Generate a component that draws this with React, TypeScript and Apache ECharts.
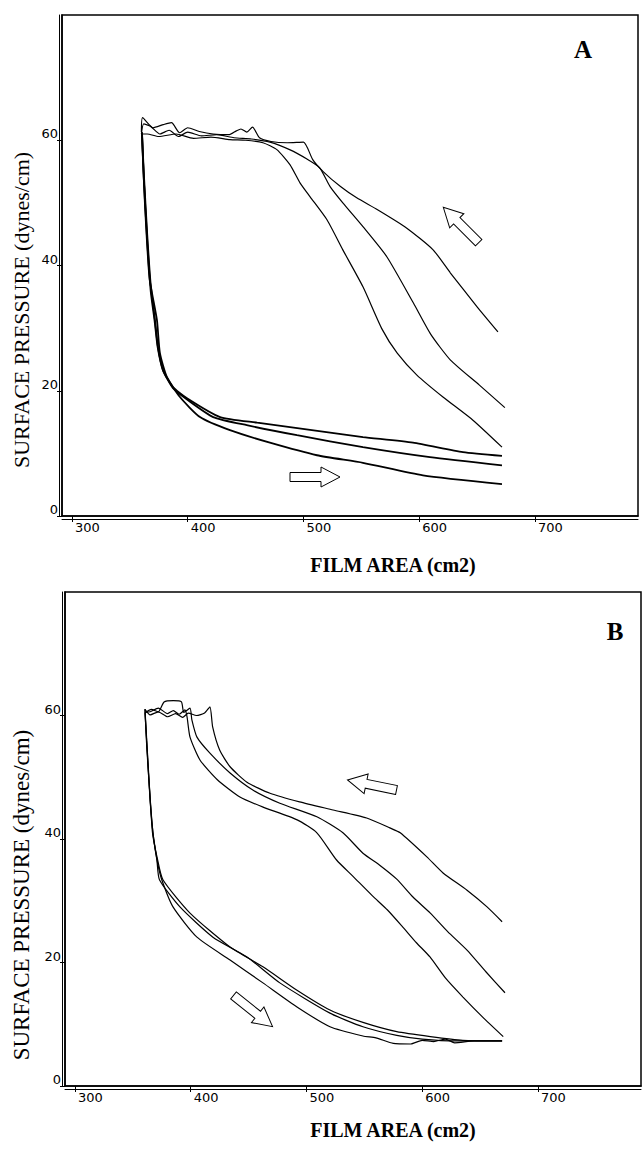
import React, { useEffect, useRef } from "react";
import * as echarts from "echarts";

// ---------- data (film area cm2, surface pressure dynes/cm) ----------
const X_TICKS = [300, 400, 500, 600, 700];
const Y_TICKS = [0, 20, 40, 60];

// Panel A - compression (upper) curves
const compA1 = [[668,29.4],[650,33.4],[627,38.8],[612,42.5],[589,46.0],[564,48.9],[546,50.8],[532,52.6],[517,55.0],[508,56.9],[500,59.7],[486,59.6],[472,59.8],[462,60.4],[456,62.1],[451,61.3],[446,61.8],[442,61.5],[436,60.9],[422,61.0],[410,61.4],[400,62.0],[393,61.2],[386,62.8],[379,62.5],[370,62.0],[361,63.6],[360,61.3]];
const compA2 = [[674,17.3],[652,20.9],[627,24.9],[610,29.0],[595,34.0],[572,41.4],[551.4,46.2],[534,50.0],[523,52.6],[514,55.6],[503,57.0],[488,58.5],[471,59.7],[455,60.2],[440,60.4],[425,60.9],[412,60.7],[400,61.3],[392,60.6],[384,61.6],[376,61.0],[368,62.2],[362,62.6],[360,61.0]];
const compA3 = [[671.5,11.0],[646.4,15.3],[620.5,19.0],[598,22.5],[581,26.0],[568,29.8],[551.4,36.6],[534,42.5],[520.3,47.3],[505.6,51.0],[497,53.2],[488.3,56.1],[477,58.5],[465,59.6],[450,60.0],[436.5,60.1],[420,60.5],[405,60.3],[390,61.0],[375,60.6],[365,61.0],[360.5,61.0]];
// Panel A - expansion (lower) curves
const expA1 = [[360.5,61.3],[362,55],[365,45],[368,37],[371.7,31.3],[374.3,27.0],[378.6,23.3],[387.3,20.6],[399.4,18.8],[428,15.8],[460,14.9],[523,13.3],[551.4,12.6],[594.6,11.7],[637.8,10.2],[671.5,9.6]];
const expA2 = [[360.5,61.0],[362,54],[365,44],[368,36],[371.5,31],[374,27],[378.6,23.3],[387.3,20.4],[399.4,18.6],[422,15.8],[451,14.5],[494.4,12.9],[551.4,11.0],[609.3,9.4],[671.5,8.1]];
const expA3 = [[360.5,61.0],[363,50],[367,38],[373.4,31.3],[376,26.0],[382,22.2],[393.3,19.0],[410.6,15.8],[436.5,13.7],[471,11.7],[511.7,9.7],[551.4,8.5],[603.2,6.5],[671.5,5.1]];

// Panel B - compression (upper) curves
const compB1 = [[669,26.6],[656,29.0],[638.7,31.7],[618,34.5],[604,37.1],[581,41.0],[572,41.8],[552,43.4],[523,44.7],[494,46.0],[468.5,47.4],[448.6,49.2],[434,51.7],[425,54.4],[419,58.1],[416.6,61.4],[412,60.4],[405,60.0],[398,60.4],[393,59.7],[387,60.3],[380,59.8],[372,60.6],[365,60.1],[360.5,61.0]];
const compB2 = [[671.5,15.1],[655,18.5],[638.7,22.0],[622,25.0],[607,28.0],[592,30.6],[578,33.5],[563,35.8],[548.8,37.7],[531.5,41.0],[509,43.6],[477,45.8],[454,47.9],[434,50.7],[416.6,53.9],[405.4,56.5],[401,59.3],[399.4,61.2],[394,60.5],[392,62.2],[385,62.4],[377,62.2],[372,60.6],[366,61.0],[361,60.5]];
const compB3 = [[670,8.0],[652,11.2],[635.2,14.4],[620,17.5],[606.7,20.9],[595,23.2],[583.4,25.7],[570,28.5],[557,30.8],[540,34.0],[526,36.6],[509,41.0],[492,43.1],[462,45.2],[442.5,46.8],[423,49.6],[408,52.8],[399.4,56.5],[396.8,59.8],[395,60.9],[390,60.2],[385,60.8],[380,60.3],[372,61.2],[365,60.6],[360.5,60.5]];
// Panel B - expansion (lower) curves
const expB1 = [[360.5,61.0],[362,56],[364.5,48],[367,41],[371,37],[376,33.4],[399.4,28.0],[434,22.5],[462.4,19.3],[491.8,15.5],[520.3,12.3],[548.8,10.3],[578,8.8],[607,8.0],[635,7.4],[669,7.3]];
const expB2 = [[360.5,61.0],[362,55],[364.8,47],[367.4,41],[370.8,36.6],[373,33.4],[390.7,29.0],[419.2,24.1],[448.6,20.9],[477,16.7],[520.3,11.8],[548.8,9.6],[578,8.2],[600,7.6],[630,7.3],[669,7.3]];
const expB3 = [[360.5,60.5],[362.5,54],[365,46],[368,40],[371.5,36],[375,33.4],[384.7,29.0],[405.4,24.1],[434,20.4],[462.4,16.7],[491.8,12.8],[520.3,9.6],[548.8,8.1],[560,7.8],[575,6.9],[590,6.8],[600,7.4],[610,7.2],[620,7.6],[628,7.0],[645,7.3],[669,7.3]];

const X_MIN = 291.4;
const X_MAX = 789;
const Y_MIN = 0;
const Y_MAX = 80;

const SERIF = '"Liberation Serif", "DejaVu Serif", serif';
const SANS = '"DejaVu Sans", sans-serif';

function arrowPoints(len: number, head: number, headHalf: number, shaftHalf: number) {
  const h = len / 2;
  const b = h - head;
  return [[-h, -shaftHalf], [b, -shaftHalf], [b, -headHalf], [h, 0], [b, headHalf], [b, shaftHalf], [-h, shaftHalf]];
}

function mainX(gridIndex: number) {
  return {
    gridIndex, type: "value", min: X_MIN, max: X_MAX,
    axisLine: { show: true, onZero: false, lineStyle: { color: "#000", width: 1.5 } },
    axisTick: { show: true, customValues: X_TICKS, length: 6, lineStyle: { color: "#000", width: 1 } },
    axisLabel: { show: true, customValues: X_TICKS, align: "left", margin: 5, padding: [0, 0, 0, 3], color: "#000", fontFamily: SANS, fontSize: 13 },
    splitLine: { show: false },
  };
}
function subX(gridIndex: number) {
  return {
    gridIndex, type: "value", min: X_MIN, max: X_MAX, position: "bottom", offset: 3,
    axisLine: { show: true, onZero: false, lineStyle: { color: "#000", width: 1 } },
    axisTick: { show: false }, axisLabel: { show: false }, splitLine: { show: false },
  };
}
function mainY(gridIndex: number) {
  return {
    gridIndex, type: "value", min: Y_MIN, max: Y_MAX,
    axisLine: { show: true, onZero: false, lineStyle: { color: "#000", width: 1.5 } },
    axisTick: { show: true, customValues: Y_TICKS, length: 5, lineStyle: { color: "#000", width: 1 } },
    axisLabel: { show: true, customValues: Y_TICKS, verticalAlign: "bottom", margin: 4, color: "#000", fontFamily: SANS, fontSize: 13 },
    splitLine: { show: false },
  };
}
function subY(gridIndex: number) {
  return {
    gridIndex, type: "value", min: Y_MIN, max: Y_MAX, position: "left", offset: 3,
    axisLine: { show: true, onZero: false, lineStyle: { color: "#000", width: 1 } },
    axisTick: { show: false }, axisLabel: { show: false }, splitLine: { show: false },
  };
}

function line(name: string, data: number[][], axis: number, width: number) {
  return {
    name, type: "line", data, xAxisIndex: axis, yAxisIndex: axis,
    showSymbol: false, symbol: "none", smooth: 0.2,
    lineStyle: { color: "#000", width }, silent: true,
  };
}

function textEl(text: string, x: number, y: number, font: string, rotation = 0) {
  return {
    type: "text", x, y, rotation,
    style: { text, fill: "#000", font, textAlign: "center", textVerticalAlign: "middle", verticalAlign: "middle" },
  };
}

function arrowEl(x: number, y: number, rotation: number) {
  return {
    type: "polygon", x, y, rotation,
    shape: { points: arrowPoints(50, 19, 10, 4.5) },
    style: { fill: "#fff", stroke: "#000", lineWidth: 1 },
  };
}

export default function App() {
  const ref = useRef<HTMLDivElement>(null);
  useEffect(() => {
    if (!ref.current) return;
    const chart = echarts.init(ref.current, null, { renderer: "svg" });
    const option = {
      animation: false,
      backgroundColor: "#fff",
      grid: [
        { left: 62, top: 15, width: 576, height: 501, show: true, borderColor: "#000", borderWidth: 1.5, containLabel: false },
        { left: 65, top: 592, width: 576, height: 494, show: true, borderColor: "#000", borderWidth: 1.5, containLabel: false },
      ],
      xAxis: [mainX(0), subX(0), mainX(1), subX(1)],
      yAxis: [mainY(0), subY(0), mainY(1), subY(1)],
      series: [
        line("A compression 1", compA1, 0, 1.2),
        line("A compression 2", compA2, 0, 1.2),
        line("A compression 3", compA3, 0, 1.2),
        line("A expansion 1", expA1, 0, 1.8),
        line("A expansion 2", expA2, 0, 1.8),
        line("A expansion 3", expA3, 0, 1.8),
        line("B compression 1", compB1, 2, 1.2),
        line("B compression 2", compB2, 2, 1.2),
        line("B compression 3", compB3, 2, 1.2),
        line("B expansion 1", expB1, 2, 1.2),
        line("B expansion 2", expB2, 2, 1.2),
        line("B expansion 3", expB3, 2, 1.2),
      ],
      graphic: [
        textEl("SURFACE PRESSURE (dynes/cm)", 21, 310, `22px ${SERIF}`, Math.PI / 2),
        textEl("SURFACE PRESSURE (dynes/cm)", 21, 895, `23px ${SERIF}`, Math.PI / 2),
        textEl("FILM AREA (cm2)", 393, 565, `bold 20px ${SERIF}`),
        textEl("FILM AREA (cm2)", 393, 1130, `bold 20px ${SERIF}`),
        textEl("A", 583, 49, `bold 25px ${SERIF}`),
        textEl("B", 615, 631, `bold 25px ${SERIF}`),
        arrowEl(461, 225, 2.356),
        arrowEl(315, 477, 0),
        arrowEl(372, 785, 2.94),
        arrowEl(253, 1011, -0.675),
      ],
    };
    chart.setOption(option as any);
    return () => chart.dispose();
  }, []);
  return <div ref={ref} style={{ position: "absolute", left: 0, top: 0, width: 643, height: 1150 }} />;
}
